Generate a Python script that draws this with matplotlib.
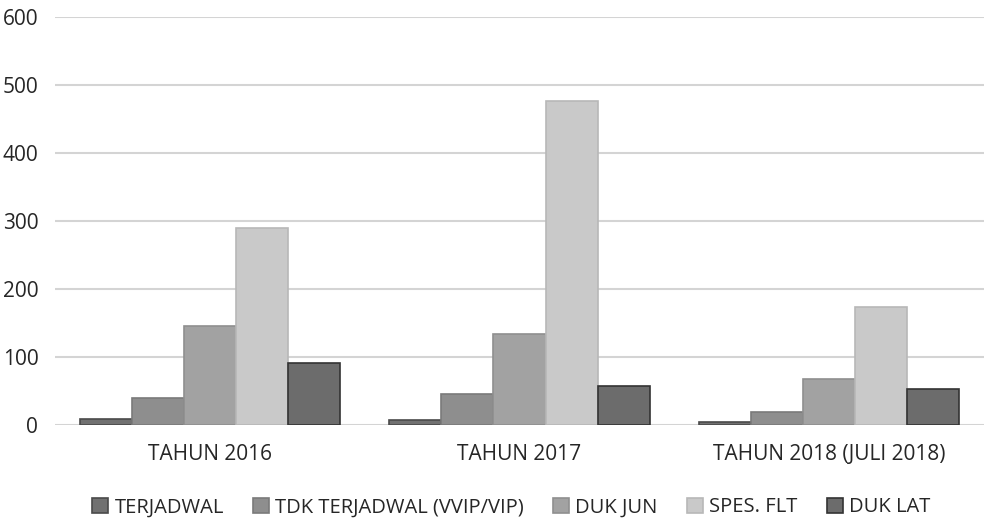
import matplotlib
matplotlib.use("Agg")
import matplotlib.pyplot as plt
import numpy as np

plt.rcParams['font.family'] = ['Open Sans', 'DejaVu Sans']

categories = ["TAHUN 2016", "TAHUN 2017", "TAHUN 2018 (JULI 2018)"]
series_names = ["TERJADWAL", "TDK TERJADWAL (VVIP/VIP)", "DUK JUN", "SPES. FLT", "DUK LAT"]
terjadwal = [9, 7, 5]
tdk_terjadwal = [40, 46, 19]
duk_jun = [145, 134, 68]
spes_flt = [290, 476, 174]
duk_lat = [91, 57, 53]
yticks = [0, 100, 200, 300, 400, 500, 600]

values = [terjadwal, tdk_terjadwal, duk_jun, spes_flt, duk_lat]
fills = ["#717171", "#8e8e8e", "#a2a2a2", "#c9c9c9", "#6c6c6c"]
edges = ["#4a4a4a", "#7a7a7a", "#8f8f8f", "#b8b8b8", "#333333"]
txt = "#262626"

fig = plt.figure(figsize=(9.87, 5.2), dpi=100)
ax = fig.add_axes([55/987, 95/520, (984-55)/987, (425-17)/520])

x = np.arange(len(categories))
w = 0.168
for i, (vals, fc, ec, name) in enumerate(zip(values, fills, edges, series_names)):
    ax.bar(x + (i - 2) * w, vals, width=w, color=fc, edgecolor=ec, linewidth=1.2, label=name, zorder=3)

ax.set_xlim(-0.5, 2.5)
ax.set_ylim(0, 600)
ax.set_yticks(yticks)
ax.set_yticklabels([str(t) for t in yticks], fontsize=15, color=txt)
ax.set_xticks(x)
ax.set_xticklabels(categories, fontsize=15, color=txt)
ax.tick_params(axis='both', length=0)
ax.tick_params(axis='y', pad=12)
ax.tick_params(axis='x', pad=14)
ax.grid(axis='y', color="#d4d4d4", linewidth=1.5, zorder=0)
for s in ax.spines.values():
    s.set_visible(False)

leg = fig.legend(loc='lower center', bbox_to_anchor=(0.518, -0.03), ncol=5, frameon=False,
                 fontsize=14.5, handlelength=0.8, handleheight=0.8, handletextpad=0.3,
                 columnspacing=1.45, labelcolor=txt)

fig.savefig("out.png", dpi=100, facecolor="white")
